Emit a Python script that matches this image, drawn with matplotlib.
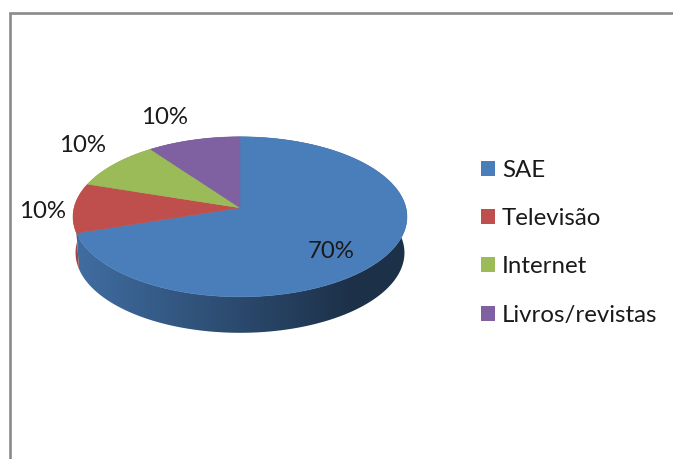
import matplotlib
matplotlib.use("Agg")
import matplotlib.pyplot as plt
import numpy as np
from matplotlib.patches import Polygon, Rectangle

plt.rcParams["font.family"] = ["Lato", "DejaVu Sans"]

categories = ["SAE", "Televisão", "Internet", "Livros/revistas"]
values = [70, 10, 10, 10]
pct_labels = ["70%", "10%", "10%", "10%"]
colors = ["#4A7EBB", "#BE4F4C", "#9BBB59", "#7F60A0"]
pct_pos = [(331, 252), (43, 212), (83, 146), (165, 118)]
legend_y = [170, 218, 266, 315]

# the 3d look of the pie: a tilted disc seen in perspective
CX, CY = 240, 208.8
RX, RY = 165.9, 79
PERSP = 0.1125
DEPTH = 36


def rim(theta):
    # theta in radians, clockwise from 12 o'clock
    u, v = np.sin(theta), np.cos(theta)
    w = 1 + PERSP * v
    return CX + RX * u / w, CY - RY * v / w


fig = plt.figure(figsize=(6.73, 4.60), dpi=100)
ax = fig.add_axes([0, 0, 1, 1])

# chart frame, only left and top are in the crop
ax.plot([10, 10, 673], [460, 14, 14], color="#8A8A8A", lw=1.9, solid_joinstyle="miter")

edges = np.radians(np.cumsum([0] + values) / sum(values) * 360)

# side wall, horizontal gradient clipped to each slice's wall
shade = np.clip((np.linspace(0, 673, 674) - 80) / 270, 0, 1)
shade = (0.86 - 0.47 * shade)[None, :, None]
for i, col in enumerate(colors):
    ts = np.linspace(edges[i], edges[i + 1], 200)
    xs, ys = rim(ts)
    # lower rim is a bit narrower than the upper one
    xs2 = CX + (xs - CX) * 0.985
    pts = list(zip(xs, ys)) + list(zip(xs2[::-1], ys[::-1] + DEPTH))
    wall = Polygon(pts, closed=True, fc="none", ec="none", zorder=2)
    ax.add_patch(wall)
    rgb = np.array(matplotlib.colors.to_rgb(col))[None, None, :] * shade
    im = ax.imshow(rgb, extent=(0, 673, 460, 0), aspect="auto", zorder=2 + i * 0.01)
    im.set_clip_path(wall)

# top face
for i, col in enumerate(colors):
    ts = np.linspace(edges[i], edges[i + 1], 200)
    xs, ys = rim(ts)
    pts = [(CX, CY)] + list(zip(xs, ys))
    ax.add_patch(Polygon(pts, closed=True, fc=col, ec=col, lw=0.4, zorder=3))

for lab, (x, y) in zip(pct_labels, pct_pos):
    ax.text(x, y, lab, fontsize=17.3, color="#1A1A1A", ha="center", va="center", zorder=4)

for name, col, y in zip(categories, colors, legend_y):
    ax.add_patch(Rectangle((481, y - 8.5), 14, 15, fc=col, ec="none", zorder=3))
    ax.text(502, y + 1, name, fontsize=17.3, color="#1A1A1A", ha="left", va="center", zorder=4)

ax.set_xlim(0, 673)
ax.set_ylim(460, 0)
ax.axis("off")

fig.savefig("out.png", dpi=100)
plt.close(fig)
